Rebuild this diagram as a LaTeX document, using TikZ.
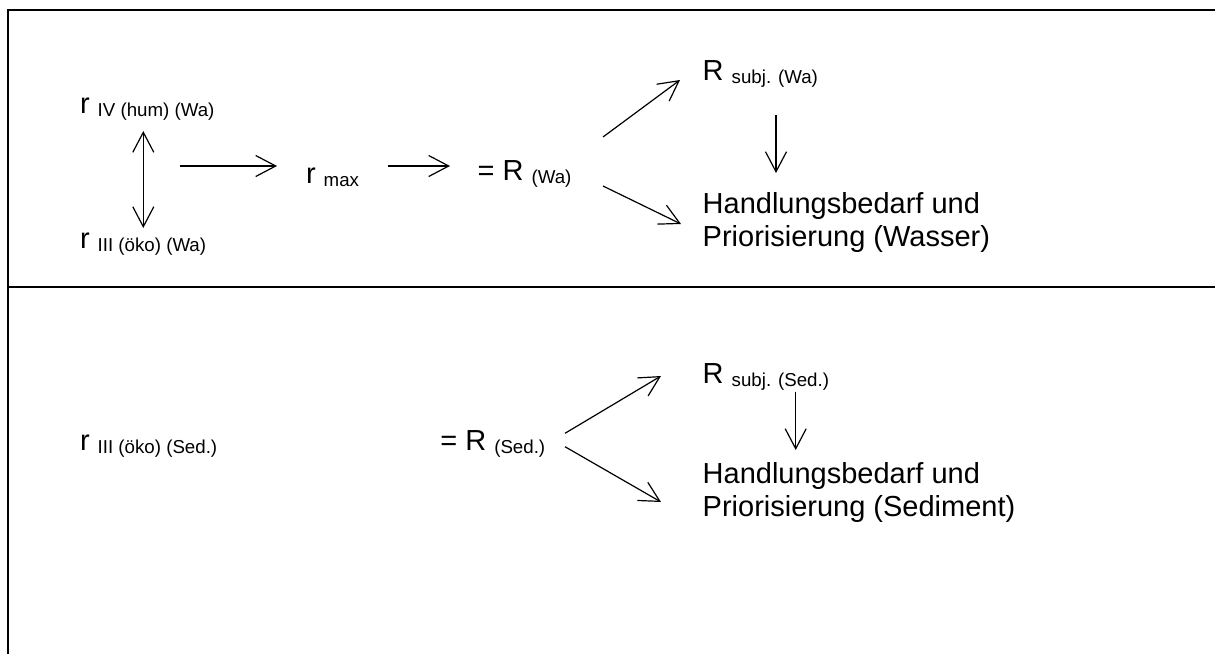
\documentclass[tikz,border=0pt]{standalone}
\usepackage{fontspec}
\setmainfont{Liberation Sans}
\usetikzlibrary{arrows.meta}
\newcommand{\sbx}[1]{\raisebox{-3pt}{\fontsize{18.7}{20}\selectfont #1}}
\tikzset{
  lbl/.style={anchor=base west, inner sep=0pt, outer sep=0pt, font=\fontsize{29}{33.2}\selectfont},
  multi/.style={lbl, align=left},
  arr/.style={line width=1.2pt, -{Straight Barb[length=20pt,width=21pt]}},
  darr/.style={line width=1.2pt, {Straight Barb[length=20pt,width=21pt]}-{Straight Barb[length=20pt,width=21pt]}},
  frame/.style={line width=2pt}
}
\begin{document}
\begin{tikzpicture}[x=1pt,y=-1pt]
\useasboundingbox (0,0) rectangle (1215,654);
% frame
\coordinate (fbl) at (8,654);
\coordinate (ftl) at (8,10);
\coordinate (ftr) at (1215,10);
\coordinate (fml) at (8,287);
\coordinate (fmr) at (1215,287);
\draw[frame] (fbl) -- (ftl) -- (ftr);
\draw[frame] (fml) -- (fmr);

% top panel (Wasser)
\node[lbl] (rIV) at (80,113) {r \sbx{IV (hum) (Wa)}};
\node[lbl] (rIII) at (80,248) {r \sbx{III (öko) (Wa)}};
\node[lbl] (rmax) at (306,183) {r \sbx{max}};
\node[lbl] (RWa) at (477.6,180) {= R \sbx{(Wa)}};
\node[lbl] (RsWa) at (702.7,80) {R \sbx{subj. (Wa)}};
% base anchor of a two-line node is the baseline of its last line
\node[multi] (HW) at (702.7,246.7) {Handlungsbedarf und\\Priorisierung (Wasser)};

\coordinate (a1s) at (143.3,131);
\coordinate (a1e) at (143.3,228);
\coordinate (a2s) at (180,166);
\coordinate (a2e) at (277,166);
\coordinate (a3s) at (388,166);
\coordinate (a3e) at (450,166);
\coordinate (a4s) at (603,137);
\coordinate (a4e) at (680,80);
\coordinate (a5s) at (603,186);
\coordinate (a5e) at (681,224);
\coordinate (a6s) at (776,115);
\coordinate (a6e) at (776,173);
\draw[darr] (a1s) -- (a1e);
\draw[arr] (a2s) -- (a2e);
\draw[arr] (a3s) -- (a3e);
\draw[arr] (a4s) -- (a4e);
\draw[arr] (a5s) -- (a5e);
\draw[arr] (a6s) -- (a6e);

% bottom panel (Sediment)
\node[lbl] (rIIIs) at (80,450) {r \sbx{III (öko) (Sed.)}};
\node[lbl] (RSed) at (440.3,450) {= R \sbx{(Sed.)}};
\node[lbl] (RsSed) at (702.7,383.3) {R \sbx{subj. (Sed.)}};
\node[multi] (HS) at (702.7,516.7) {Handlungsbedarf und\\Priorisierung (Sediment)};

\coordinate (b1s) at (565,433.3);
\coordinate (b1e) at (661,376);
\coordinate (b2s) at (565,446.7);
\coordinate (b2e) at (661,502);
\coordinate (b3s) at (795.7,391.7);
\coordinate (b3e) at (795.7,450);
\draw[arr] (b1s) -- (b1e);
\draw[arr] (b2s) -- (b2e);
\draw[arr] (b3s) -- (b3e);
\end{tikzpicture}
\end{document}
